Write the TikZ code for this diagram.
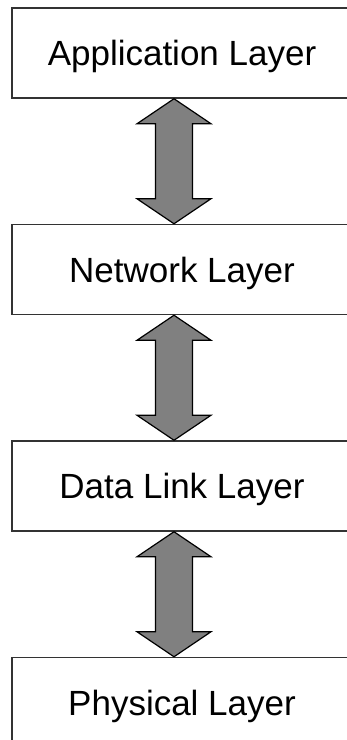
\documentclass[tikz,border=0pt]{standalone}
\usepackage{fontspec}
\setmainfont{Liberation Sans}
\usetikzlibrary{positioning,calc}

\newcommand{\layerlink}[2]{%
  \draw[link] let \p1=([xshift=-8pt]#1.south), \p2=([xshift=-8pt]#2.north) in
    (\p1) -- ++(37pt,-25pt) -- ++(-18.5pt,0pt) -- (\x1+18.5pt,\y2+25pt)
    -- ++(18.5pt,0pt) -- (\p2) -- ++(-37pt,25pt) -- ++(18.5pt,0pt)
    -- (\x1-18.5pt,\y1-25pt) -- ++(-18.5pt,0pt) -- cycle;}

\begin{document}
\begin{tikzpicture}[x=1pt,y=1pt,node distance=125pt,
  layer/.style={draw=black!80,line width=1.5pt,minimum width=340pt,minimum height=90pt,
    inner sep=0pt,text height=25pt,text depth=0pt,font=\fontsize{35}{40}\selectfont},
  link/.style={draw=black,line width=1.2pt,fill=black!50}]
  \useasboundingbox (0,0) rectangle (347,-740);
  \clip (0,0) rectangle (347,-740);

  \node[layer] (app) at (182,-53)   {Application Layer};
  \node[layer] (net) [below=of app] {Network Layer};
  \node[layer] (dll) [below=of net] {Data Link Layer};
  \node[layer] (phy) [below=of dll] {Physical Layer};

  \layerlink{app}{net}
  \layerlink{net}{dll}
  \layerlink{dll}{phy}
\end{tikzpicture}
\end{document}
